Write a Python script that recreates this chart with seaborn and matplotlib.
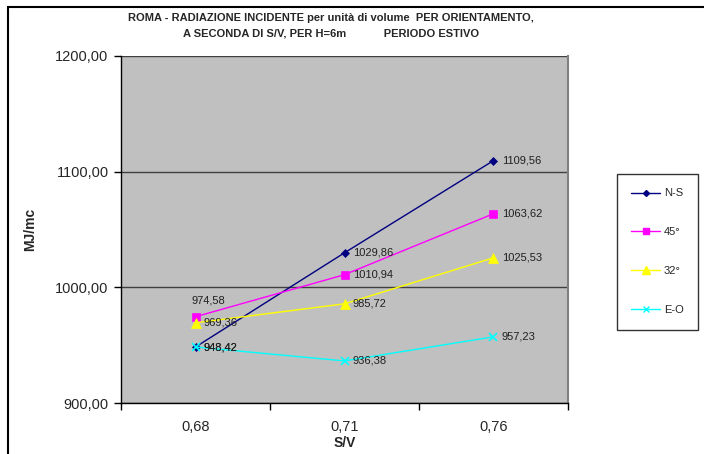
import matplotlib
matplotlib.use("Agg")
import matplotlib.pyplot as plt
import matplotlib.patches as mpatches
from matplotlib.ticker import FixedLocator, NullFormatter, FixedFormatter
import seaborn as sns
import pandas as pd

# Data
categories = ["0,68", "0,71", "0,76"]
series_names = ["N-S", "45°", "32°", "E-O"]
ns_values = [948.42, 1029.86, 1109.56]
deg45_values = [974.58, 1010.94, 1063.62]
deg32_values = [969.36, 985.72, 1025.53]
eo_values = [948.42, 936.38, 957.23]
y_ticks = [900, 1000, 1100, 1200]

colors = {"N-S": "#000080", "45°": "#FF00FF", "32°": "#FFFF00", "E-O": "#00FFFF"}
markers = {"N-S": "D", "45°": "s", "32°": "^", "E-O": "x"}
msizes = {"N-S": 4, "45°": 6, "32°": 7, "E-O": 6}

rows = []
for name, vals in zip(series_names, [ns_values, deg45_values, deg32_values, eo_values]):
    for i, v in enumerate(vals):
        rows.append({"pos": i, "value": v, "serie": name})
df = pd.DataFrame(rows)

sns.set_theme(style="white")
plt.rcParams["font.family"] = ["Liberation Sans", "DejaVu Sans"]

fig = plt.figure(figsize=(7.04, 4.54), dpi=100)
ax = fig.add_axes([0.1719, 0.1123, 0.8068 - 0.1719, 0.8767 - 0.1123])
ax.set_facecolor("#C0C0C0")

for name in series_names:
    sub = df[df["serie"] == name]
    sns.lineplot(data=sub, x="pos", y="value", ax=ax, color=colors[name],
                 marker=markers[name], markersize=msizes[name],
                 markeredgecolor=colors[name], markerfacecolor=colors[name],
                 markeredgewidth=1.2 if name == "E-O" else 0.5,
                 linewidth=1.0, label=name, legend=False)

# Value labels
for name in series_names:
    sub = df[df["serie"] == name]
    for _, r in sub.iterrows():
        txt = f"{r['value']:.2f}".replace(".", ",")
        if name == "45°" and r["pos"] == 0:
            ax.annotate(txt, (r["pos"], r["value"]), xytext=(-3, 8),
                        textcoords="offset points", ha="left", va="bottom",
                        fontsize=8, color="#202020")
        else:
            ax.annotate(txt, (r["pos"], r["value"]), xytext=(6, 0),
                        textcoords="offset points", ha="left", va="center",
                        fontsize=8, color="#202020")

ax.set_xlim(-0.5, 2.5)
ax.set_ylim(900, 1200)
ax.set_yticks(y_ticks)
ax.set_yticklabels([f"{v:.2f}".replace(".", ",") for v in y_ticks], fontsize=10.5)
ax.yaxis.grid(True, color="#404040", linewidth=1.0)
ax.xaxis.grid(False)

ax.xaxis.set_major_locator(FixedLocator([-0.5, 0.5, 1.5, 2.5]))
ax.xaxis.set_major_formatter(NullFormatter())
ax.xaxis.set_minor_locator(FixedLocator([0, 1, 2]))
ax.xaxis.set_minor_formatter(FixedFormatter(categories))
ax.tick_params(axis="x", which="major", direction="out", length=5, width=1, color="black", bottom=True)
ax.tick_params(axis="x", which="minor", length=0, labelsize=10.5, pad=12)
ax.tick_params(axis="y", direction="out", length=5, width=1, color="black", left=True, pad=4)

ax.set_xlabel("S/V", fontsize=10, fontweight="bold", labelpad=2)
ax.set_ylabel("MJ/mc", fontsize=10, fontweight="bold", labelpad=13)

ax.spines["top"].set_visible(False)
ax.spines["right"].set_color("#808080")
ax.spines["right"].set_linewidth(1.5)
ax.spines["left"].set_color("black")
ax.spines["bottom"].set_color("black")
ax.spines["left"].set_linewidth(1)
ax.spines["bottom"].set_linewidth(1)

# Legend
handles = [plt.Line2D([], [], color=colors[n], marker=markers[n], markersize=msizes[n] - 1,
                      markerfacecolor=colors[n], markeredgecolor=colors[n], linewidth=1)
           for n in series_names]
leg = fig.legend(handles, series_names, loc="upper left",
                 bbox_to_anchor=(617 / 704, 1 - 174 / 454), fontsize=8,
                 frameon=True, fancybox=False, edgecolor="black",
                 labelspacing=2.6, handlelength=2.6, handletextpad=0.3,
                 borderpad=1.3, borderaxespad=0)
leg.get_frame().set_linewidth(1)

fig.text(0.47, 1 - 18 / 454, "ROMA - RADIAZIONE INCIDENTE per unità di volume  PER ORIENTAMENTO,",
         ha="center", va="center", fontsize=8, fontweight="bold")
fig.text(0.47, 1 - 34 / 454, "A SECONDA DI S/V, PER H=6m            PERIODO ESTIVO",
         ha="center", va="center", fontsize=8, fontweight="bold")

# Outer frame
fig.add_artist(mpatches.Rectangle((8 / 704, -0.1), 1.2, 1 - 7 / 454 + 0.1,
                                  transform=fig.transFigure, fill=False,
                                  edgecolor="black", linewidth=1.5))

fig.savefig("out.png", dpi=100)
